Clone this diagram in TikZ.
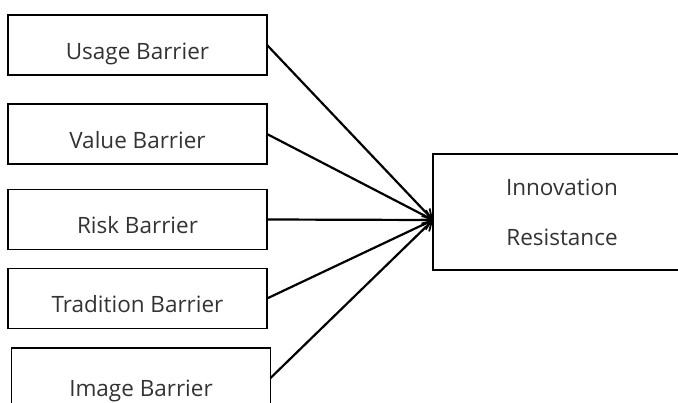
\documentclass[tikz,border=0pt]{standalone}
\usepackage{fontspec}
\setmainfont{Open Sans}
\usepackage{tikz}
\usetikzlibrary{arrows.meta}
\tikzset{
   barrier/.style={draw=black, line width=1.7pt, rectangle, inner sep=0pt, outer sep=0pt,
      minimum width=259pt, minimum height=60pt, text=black!80,
      text height=28pt, text depth=0pt,
      font=\fontsize{22.5}{27}\selectfont},
   result/.style={draw=black, line width=1.7pt, rectangle, inner sep=0pt, outer sep=0pt,
      minimum width=258pt, minimum height=116pt, align=center, text=black!80,
      font=\fontsize{22.5}{50}\selectfont},
   link/.style={draw=black, line width=2.2pt,
      -{Straight Barb[length=9pt,width=11pt,line width=1.8pt]}},
    }
\begin{document}
\begin{tikzpicture}[x=1pt,y=-1pt]
        \useasboundingbox (0,0) rectangle (678,402);
        \clip (0,0) rectangle (678,402);
        % barriers
        \node[barrier] (usage) at (137.5,45) {Usage Barrier};
        \node[barrier] (value) at (137.5,134) {Value Barrier};
        \node[barrier] (risk) at (137.5,219.5) {Risk Barrier};
        \node[barrier] (tradition) at (137.5,298.5) {Tradition Barrier};
        \node[barrier, text height=36pt] (image) at (141,378) {Image Barrier};
        % innovation resistance
        \node[result] (resist) at (562,212) {Innovation\\Resistance};
        \coordinate (tip) at ([yshift=-8pt]resist.west);
        % arrows
        \draw[link] (usage.east) -- (tip);
        \draw[link] (value.east) -- (tip);
        \draw[link] (risk.east) -- (tip);
        \draw[link] (tradition.east) -- (tip);
        \draw[link] (image.east) -- (tip);
\end{tikzpicture}
\end{document}
